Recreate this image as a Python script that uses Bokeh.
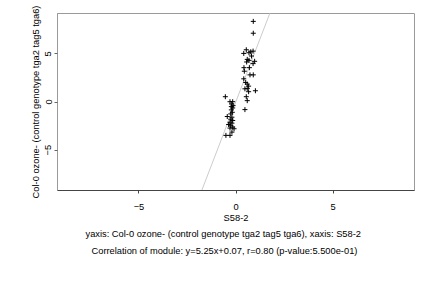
import numpy as np
from bokeh.plotting import figure
from bokeh.models import Range1d, FixedTicker, Title, ColumnDataSource
from bokeh.embed import file_html
from bokeh.resources import INLINE

# Data
x_vals = [0.89, 0.89, 0.53, 0.40, 0.67, 0.76, 0.88, 0.80, 0.58, 0.67, 0.55, 0.96, 0.88,
          0.69, 0.41, 0.43, 0.72, 0.89, 0.40, 0.50, 0.58, 0.65, 0.46, 0.58, 1.00, 0.65,
          0.53, 0.58, 0.46, -0.55,
          -0.31, -0.17, -0.22, -0.15, -0.24, -0.17, -0.24, -0.19, -0.27, -0.45, -0.21,
          -0.27, -0.17, -0.31, -0.21, -0.38, -0.27, -0.17, -0.31, -0.10, -0.21, -0.52, -0.31]
y_vals = [8.38, 7.15, 5.43, 5.05, 5.12, 5.22, 5.29, 4.78, 4.43, 4.33, 4.16, 4.23, 3.99,
          3.57, 3.57, 3.20, 2.82, 2.82, 2.41, 2.03, 1.86, 1.65, 1.37, 1.41, 1.17, 1.07,
          0.55, 0.14, -0.79, 0.55,
          0.03, 0.03, -0.21, -0.38, -0.48, -0.62, -0.82, -1.07, -1.24, -1.51, -1.58,
          -1.79, -1.92, -2.10, -2.20, -2.34, -2.47, -2.61, -2.71, -2.78, -3.13, -3.47, -3.47]
slope = 5.25
intercept = 0.07
x_ticks = [-5, 0, 5]
y_ticks = [-5, 0, 5]
x_label = "S58-2"
y_label = "Col-0 ozone- (control genotype tga2 tag5 tga6)"
line1 = "yaxis: Col-0 ozone- (control genotype tga2 tag5 tga6), xaxis: S58-2"
line2 = "Correlation of module: y=5.25x+0.07, r=0.80 (p-value:5.500e-01)"

FONT = "Liberation Sans"
FS = "9.3px"
LIM = 9.2

p = figure(width=432, height=288, output_backend="svg", toolbar_location=None,
           x_range=Range1d(-LIM, LIM), y_range=Range1d(-LIM, LIM),
           min_border_left=57, min_border_right=18, min_border_top=13, min_border_bottom=98)
p.background_fill_color = "white"
p.border_fill_color = "white"
p.outline_line_color = "#9a9a9a"
p.outline_line_width = 1
p.grid.visible = False

# regression line
lx = np.array([-LIM, LIM])
p.line(lx, slope * lx + intercept, line_color="#cccccc", line_width=1)

src = ColumnDataSource(dict(x=x_vals, y=y_vals))
p.scatter("x", "y", source=src, marker="cross", size=5, line_color="black", line_width=1)

for ax in (p.xaxis[0], p.yaxis[0]):
    ax.major_label_text_font = FONT
    ax.major_label_text_font_size = FS
    ax.major_label_text_color = "black"
    ax.axis_label_text_font = FONT
    ax.axis_label_text_font_size = FS
    ax.axis_label_text_font_style = "normal"
    ax.axis_label_text_color = "black"
    ax.minor_tick_line_color = None
    ax.major_tick_in = 0
    ax.major_tick_out = 3

p.xaxis.ticker = FixedTicker(ticks=x_ticks)
p.yaxis.ticker = FixedTicker(ticks=y_ticks)
p.xaxis.axis_label = x_label
p.yaxis.axis_label = y_label
p.xaxis.axis_line_color = "#444444"
p.xaxis.major_tick_line_color = "#444444"
p.yaxis.axis_line_color = "#9a9a9a"
p.yaxis.major_tick_line_color = "#666666"
p.yaxis.major_label_orientation = "vertical"
p.xaxis.major_label_standoff = 10
p.xaxis.axis_label_standoff = 0
p.yaxis.major_label_standoff = 3
p.yaxis.axis_label_standoff = 2

for txt, so, off in ((line1, 3, 28), (line2, 6, 34)):
    t = Title(text=txt, align="left", text_font=FONT, text_font_size=FS,
              text_font_style="normal", text_color="black", standoff=so, offset=off)
    p.add_layout(t, "below")

open("out.html", "w").write(file_html(p, INLINE))
